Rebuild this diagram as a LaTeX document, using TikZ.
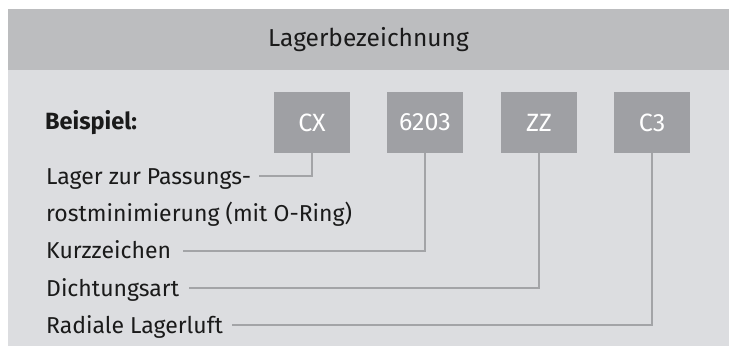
\documentclass[tikz,border=0pt]{standalone}
\usepackage{fontspec}
\setmainfont{Fira Sans}
\definecolor{headgray}{HTML}{BCBDBF}
\definecolor{bodygray}{HTML}{DCDDE0}
\definecolor{boxgray}{HTML}{9FA0A4}
\definecolor{linegray}{HTML}{A3A4A7}
\definecolor{textblack}{HTML}{1A1A1A}
\begin{document}
\begin{tikzpicture}[x=1pt,y=-1pt,
    codebox/.style={fill=boxgray,text=white,minimum width=76pt,minimum height=61pt,inner sep=0pt,font=\fontsize{25}{29}\selectfont},
    lbl/.style={anchor=base west,inner sep=0pt,text=textblack,font=\fontsize{23}{27}\selectfont},
    leader/.style={draw=linegray,line width=1.3pt}]
                    \useasboundingbox (0,0) rectangle (731,346);
                    \fill[headgray] (8,9) rectangle (729,70);
                    \fill[bodygray] (8,70) rectangle (729,346);
                    \node[text=textblack,font=\fontsize{24.5}{28}\selectfont] (title) at (368.5,39.5) {Lagerbezeichnung};
                    \node[lbl,font=\fontsize{23.5}{27}\selectfont\bfseries] (beispiel) at (45,129) {Beispiel:};
                    \node[codebox] (cx) at (312,122.5) {CX};
                    \node[codebox] (kurz) at (425,122.5) {6203};
                    \node[codebox] (zz) at (539,122.5) {ZZ};
                    \node[codebox] (c3) at (652,122.5) {C3};
                    \node[lbl] (passung) at (46,184) {Lager zur Passungs-};
                    \node[lbl] (rost) at (46,221) {rostminimierung (mit O-Ring)};
                    \node[lbl] (kurztext) at (46,258) {Kurzzeichen};
                    \node[lbl] (dichtung) at (46,296) {Dichtungsart};
                    \node[lbl] (luft) at (46,333) {Radiale Lagerluft};
                    \draw[leader] (cx.south) |- ([xshift=8pt,yshift=8pt]passung.base east);
                    \draw[leader] (kurz.south) |- ([xshift=12pt,yshift=7pt]kurztext.base east);
                    \draw[leader] (zz.south) |- ([xshift=10pt,yshift=8pt]dichtung.base east);
                    \draw[leader] (c3.south) |- ([xshift=9pt,yshift=8pt]luft.base east);
                  \end{tikzpicture}
\end{document}
